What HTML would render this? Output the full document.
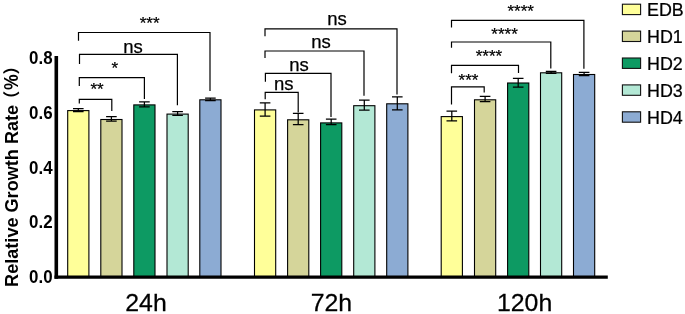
<!DOCTYPE html>
<html><head><meta charset="utf-8"><title>Relative Growth Rate</title>
<style>
html,body{margin:0;padding:0;background:#fff;}
svg{display:block;}
text{font-family:"Liberation Sans","Noto Sans CJK SC",sans-serif;fill:#000;}
.r{stroke:#000;stroke-width:0.25px;}
</style></head>
<body>
<svg width="685" height="314" viewBox="0 0 685 314">
<rect x="0" y="0" width="685" height="314" fill="#ffffff"/>
<rect x="67.7" y="110.6" width="21.2" height="166.5" fill="#FFFF99" stroke="#000" stroke-width="1.1"/>
<path d="M78.3 108.5V111.6M73.0 108.5H83.6M73.0 111.6H83.6" stroke="#000" stroke-width="1.25" fill="none"/>
<rect x="100.8" y="119.5" width="21.2" height="157.6" fill="#D5D59A" stroke="#000" stroke-width="1.1"/>
<path d="M111.4 116.5V121.2M106.1 116.5H116.7M106.1 121.2H116.7" stroke="#000" stroke-width="1.25" fill="none"/>
<rect x="133.8" y="104.9" width="21.2" height="172.2" fill="#0D9A63" stroke="#000" stroke-width="1.1"/>
<path d="M144.4 101.8V106.8M139.1 101.8H149.7M139.1 106.8H149.7" stroke="#000" stroke-width="1.25" fill="none"/>
<rect x="167.0" y="114.1" width="21.2" height="163.0" fill="#B3E8D5" stroke="#000" stroke-width="1.1"/>
<path d="M177.6 111.7V115.3M172.3 111.7H182.9M172.3 115.3H182.9" stroke="#000" stroke-width="1.25" fill="none"/>
<rect x="199.8" y="99.8" width="21.2" height="177.2" fill="#8CABD3" stroke="#000" stroke-width="1.1"/>
<path d="M210.4 98.1V100.6M205.1 98.1H215.7M205.1 100.6H215.7" stroke="#000" stroke-width="1.25" fill="none"/>
<rect x="254.5" y="109.9" width="21.2" height="167.2" fill="#FFFF99" stroke="#000" stroke-width="1.1"/>
<path d="M265.1 102.8V116.1M259.8 102.8H270.4M259.8 116.1H270.4" stroke="#000" stroke-width="1.25" fill="none"/>
<rect x="287.6" y="119.8" width="21.2" height="157.2" fill="#D5D59A" stroke="#000" stroke-width="1.1"/>
<path d="M298.2 113.4V124.5M292.9 113.4H303.5M292.9 124.5H303.5" stroke="#000" stroke-width="1.25" fill="none"/>
<rect x="320.6" y="122.9" width="21.2" height="154.2" fill="#0D9A63" stroke="#000" stroke-width="1.1"/>
<path d="M331.2 119.1V124.6M325.9 119.1H336.5M325.9 124.6H336.5" stroke="#000" stroke-width="1.25" fill="none"/>
<rect x="353.7" y="105.7" width="21.2" height="171.4" fill="#B3E8D5" stroke="#000" stroke-width="1.1"/>
<path d="M364.3 100.2V110.0M359.0 100.2H369.6M359.0 110.0H369.6" stroke="#000" stroke-width="1.25" fill="none"/>
<rect x="386.7" y="103.8" width="21.2" height="173.2" fill="#8CABD3" stroke="#000" stroke-width="1.1"/>
<path d="M397.3 96.9V109.8M392.0 96.9H402.6M392.0 109.8H402.6" stroke="#000" stroke-width="1.25" fill="none"/>
<rect x="441.2" y="116.6" width="21.2" height="160.5" fill="#FFFF99" stroke="#000" stroke-width="1.1"/>
<path d="M451.8 111.2V120.8M446.5 111.2H457.1M446.5 120.8H457.1" stroke="#000" stroke-width="1.25" fill="none"/>
<rect x="474.5" y="99.8" width="21.2" height="177.2" fill="#D5D59A" stroke="#000" stroke-width="1.1"/>
<path d="M485.1 96.4V101.7M479.8 96.4H490.4M479.8 101.7H490.4" stroke="#000" stroke-width="1.25" fill="none"/>
<rect x="507.6" y="83.0" width="21.2" height="194.1" fill="#0D9A63" stroke="#000" stroke-width="1.1"/>
<path d="M518.2 78.3V87.0M512.9 78.3H523.5M512.9 87.0H523.5" stroke="#000" stroke-width="1.25" fill="none"/>
<rect x="540.5" y="72.8" width="21.2" height="204.2" fill="#B3E8D5" stroke="#000" stroke-width="1.1"/>
<path d="M551.1 71.4V73.4M545.8 71.4H556.4M545.8 73.4H556.4" stroke="#000" stroke-width="1.25" fill="none"/>
<rect x="573.5" y="74.5" width="21.2" height="202.6" fill="#8CABD3" stroke="#000" stroke-width="1.1"/>
<path d="M584.1 72.4V75.5M578.8 72.4H589.4M578.8 75.5H589.4" stroke="#000" stroke-width="1.25" fill="none"/>
<path d="M56.3 56.0V278.7" stroke="#000" stroke-width="3.6" fill="none"/>
<path d="M54.5 277.1H607.8" stroke="#000" stroke-width="3.3" fill="none"/>
<path d="M79.3 103.4V99.3H111.8V111.0" stroke="#000" stroke-width="1.2" fill="none"/>
<path d="M79.3 85.9V77.6H144.4V99.0" stroke="#000" stroke-width="1.2" fill="none"/>
<path d="M79.5 64.1V54.3H177.4V105.2" stroke="#000" stroke-width="1.2" fill="none"/>
<path d="M78.5 40.7V32.5H210.0V91.0" stroke="#000" stroke-width="1.2" fill="none"/>
<path d="M265.2 99.3V92.3H298.2V112.6" stroke="#000" stroke-width="1.2" fill="none"/>
<path d="M265.4 81.7V73.4H331.0V116.9" stroke="#000" stroke-width="1.2" fill="none"/>
<path d="M265.0 58.0V51.0H364.0V95.7" stroke="#000" stroke-width="1.2" fill="none"/>
<path d="M265.0 36.2V28.8H397.0V94.4" stroke="#000" stroke-width="1.2" fill="none"/>
<path d="M451.5 104.6V86.8H484.2V92.4" stroke="#000" stroke-width="1.2" fill="none"/>
<path d="M451.5 73.2V65.3H518.5V73.0" stroke="#000" stroke-width="1.2" fill="none"/>
<path d="M451.5 47.8V42.0H550.8V68.5" stroke="#000" stroke-width="1.2" fill="none"/>
<path d="M451.5 27.5V20.3H583.9V68.7" stroke="#000" stroke-width="1.2" fill="none"/>
<text transform="translate(97.0 95.4)" font-size="17" class="r" text-anchor="middle">**</text>
<text transform="translate(114.7 73.6)" font-size="17" class="r" text-anchor="middle">*</text>
<text transform="translate(132.9 53.1)" font-size="18.5" class="r" text-anchor="middle">ns</text>
<text transform="translate(149.6 29.3)" font-size="17" class="r" text-anchor="middle">***</text>
<text transform="translate(283.8 90.0)" font-size="18.5" class="r" text-anchor="middle">ns</text>
<text transform="translate(299.1 70.6)" font-size="18.5" class="r" text-anchor="middle">ns</text>
<text transform="translate(320.9 47.7)" font-size="18.5" class="r" text-anchor="middle">ns</text>
<text transform="translate(337.0 25.0)" font-size="18.5" class="r" text-anchor="middle">ns</text>
<text transform="translate(468.5 86.0)" font-size="17" class="r" text-anchor="middle">***</text>
<text transform="translate(488.9 61.6)" font-size="17" class="r" text-anchor="middle">****</text>
<text transform="translate(504.6 39.6)" font-size="17" class="r" text-anchor="middle">****</text>
<text transform="translate(520.7 17.1)" font-size="17" class="r" text-anchor="middle">****</text>
<text transform="translate(52.6 63.9) scale(0.92 1)" font-size="18.4" font-weight="bold" text-anchor="end">0.8</text>
<text transform="translate(52.6 118.7) scale(0.92 1)" font-size="18.4" font-weight="bold" text-anchor="end">0.6</text>
<text transform="translate(52.6 173.5) scale(0.92 1)" font-size="18.4" font-weight="bold" text-anchor="end">0.4</text>
<text transform="translate(52.6 228.3) scale(0.92 1)" font-size="18.4" font-weight="bold" text-anchor="end">0.2</text>
<text transform="translate(52.6 283.1) scale(0.92 1)" font-size="18.4" font-weight="bold" text-anchor="end">0.0</text>
<text transform="translate(18.2 286.9) rotate(-90) scale(0.953 1)" font-size="19" font-weight="bold" text-anchor="start">Relative Growth Rate</text>
<text transform="translate(18.3 107.8) rotate(-90)" font-size="17" font-weight="bold" text-anchor="start">（</text>
<text transform="translate(18.2 89.9) rotate(-90) scale(0.9 1)" font-size="19.5" font-weight="bold" text-anchor="start">%</text>
<text transform="translate(18.3 74.5) rotate(-90)" font-size="17" font-weight="bold" text-anchor="start">）</text>
<text transform="translate(146.0 311.2) scale(1.08 1)" font-size="23" class="r" text-anchor="middle">24h</text>
<text transform="translate(331.4 311.2) scale(1.08 1)" font-size="23" class="r" text-anchor="middle">72h</text>
<text transform="translate(524.6 311.2) scale(1.08 1)" font-size="23" class="r" text-anchor="middle">120h</text>
<rect x="622.4" y="4.2" width="18.2" height="10.4" fill="#FFFF99" stroke="#111" stroke-width="1.1"/>
<text transform="translate(647.1 15.6) scale(0.965 1)" font-size="18.5" class="r" text-anchor="start">EDB</text>
<rect x="622.4" y="31.1" width="18.2" height="10.4" fill="#D5D59A" stroke="#111" stroke-width="1.1"/>
<text transform="translate(647.1 42.6) scale(0.965 1)" font-size="18.5" class="r" text-anchor="start">HD1</text>
<rect x="622.4" y="58.0" width="18.2" height="10.4" fill="#0D9A63" stroke="#111" stroke-width="1.1"/>
<text transform="translate(647.1 69.6) scale(0.965 1)" font-size="18.5" class="r" text-anchor="start">HD2</text>
<rect x="622.4" y="84.9" width="18.2" height="10.4" fill="#B3E8D5" stroke="#111" stroke-width="1.1"/>
<text transform="translate(647.1 96.6) scale(0.965 1)" font-size="18.5" class="r" text-anchor="start">HD3</text>
<rect x="622.4" y="111.8" width="18.2" height="10.4" fill="#8CABD3" stroke="#111" stroke-width="1.1"/>
<text transform="translate(647.1 123.6) scale(0.965 1)" font-size="18.5" class="r" text-anchor="start">HD4</text>
</svg>
</body></html>
